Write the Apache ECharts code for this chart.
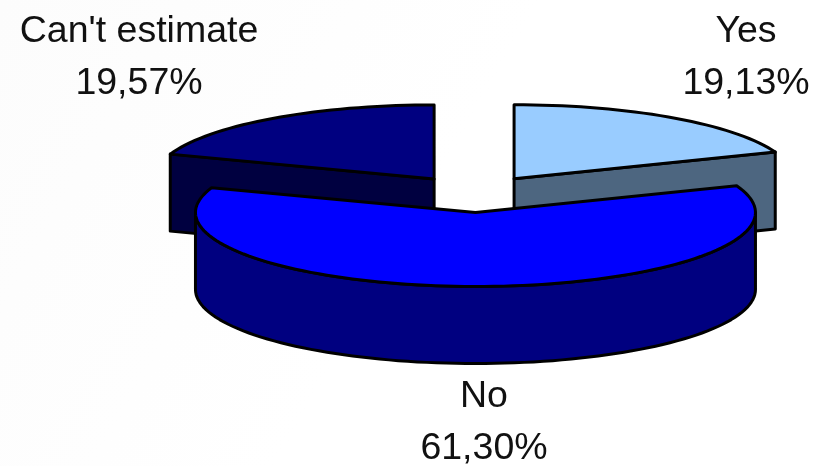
<!DOCTYPE html>
<html><head><meta charset="utf-8">
<script src="https://cdn.jsdelivr.net/npm/echarts@6/dist/echarts.min.js"></script>
<style>html,body{margin:0;padding:0;background:#fff}#c{width:817px;height:466px}</style>
</head><body><div id="c"></div>
<script>
// Data, clockwise from 12 o'clock
var categories = ['Yes', 'No', "Can't estimate"];
var values = [19.13, 61.30, 19.57];
var valueLabels = ['19,13%', '61,30%', '19,57%'];

// Styles and layout
var topColors = ['#99CCFF', '#0000FF', '#000080'];
var sideColors = ['#4D6680', '#000080', '#000040'];
var drawOrder = [1, 2, 0];
var labelAnchors = [[746, 58], [484, 423], [139, 58]];
var CX = 474.5, CY = 194, RX = 280, RY = 74, DEPTH = 77, EXPLODE = 0.25;
var total = values.reduce(function (s, v) { return s + v; }, 0);

function pt(ox, oy, deg, dy) {
  var r = deg * Math.PI / 180;
  return [ox + RX * Math.sin(r), oy - RY * Math.cos(r) + (dy || 0)];
}
function arc(ox, oy, a, b, dy) {
  var out = [], n = Math.max(2, Math.ceil(Math.abs(b - a) / 2));
  for (var i = 0; i <= n; i++) out.push(pt(ox, oy, a + (b - a) * i / n, dy));
  return out;
}
function poly(points, fill, z) {
  return { type: 'polygon', z2: z, shape: { points: points },
    style: { fill: fill, stroke: '#000', lineWidth: 3, lineJoin: 'round' } };
}
function renderItem(params, api) {
  var i = params.dataIndex, v = api.value(0), before = 0;
  for (var k = 0; k < i; k++) before += values[k];
  var a = before / total * 360, b = (before + v) / total * 360, mid = (a + b) / 2;
  var ox = CX + RX * EXPLODE * Math.sin(mid * Math.PI / 180);
  var oy = CY - RY * EXPLODE * Math.cos(mid * Math.PI / 180);
  var z = drawOrder[i] * 10, kids = [];
  var apex = [ox, oy], apexLow = [ox, oy + DEPTH];

  // Cut faces that look towards the viewer
  if (Math.cos(b * Math.PI / 180) > 0 && b < 180) {
    var e = pt(ox, oy, b), eL = pt(ox, oy, b, DEPTH);
    kids.push(poly([apex, e, eL, apexLow], sideColors[i], z + 1));
  }
  if (Math.cos(a * Math.PI / 180) > 0 && a > 180) {
    var s = pt(ox, oy, a), sL = pt(ox, oy, a, DEPTH);
    kids.push(poly([apex, s, sL, apexLow], sideColors[i], z + 1));
  }
  // Outer wall, front half only
  var fa = Math.max(a, 90), fb = Math.min(b, 270);
  if (fb > fa) {
    kids.push(poly(arc(ox, oy, fa, fb, 0).concat(arc(ox, oy, fb, fa, DEPTH)), sideColors[i], z + 2));
  }
  // Top face
  kids.push(poly([apex].concat(arc(ox, oy, a, b, 0)), topColors[i], z + 3));

  var anc = labelAnchors[i];
  kids.push({ type: 'text', z2: 100, style: {
    x: anc[0], y: anc[1], text: categories[i] + '\n' + valueLabels[i],
    fill: '#111', font: '37.5px "Liberation Sans", Arial, sans-serif',
    lineHeight: 52, align: 'center', verticalAlign: 'middle' } });
  return { type: 'group', children: kids };
}

var chart = echarts.init(document.getElementById('c'));
chart.setOption({
  animation: false,
  backgroundColor: { type: 'linear', x: 0, y: 0, x2: 1, y2: 1,
    colorStops: [{ offset: 0, color: '#FCFCFC' }, { offset: 0.5, color: '#FFFFFF' }, { offset: 1, color: '#FFFFFF' }] },
  series: [{ type: 'custom', coordinateSystem: 'none', renderItem: renderItem, silent: true,
    data: values.map(function (v, i) { return { name: categories[i], value: [v] }; }) }]
});
</script></body></html>
